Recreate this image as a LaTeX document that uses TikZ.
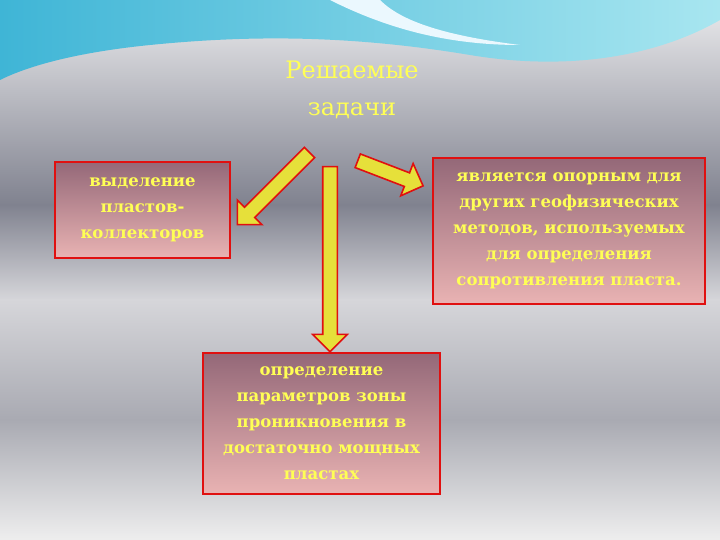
\documentclass[tikz,border=0pt]{standalone}
\usepackage{fontspec}
\setmainfont{DejaVu Serif}
\usetikzlibrary{shapes.arrows,shadows}
\definecolor{bg1}{HTML}{ECECEE}
\definecolor{bg2}{HTML}{80828F}
\definecolor{bg3}{HTML}{D6D6DA}
\definecolor{bg4}{HTML}{A9AAB2}
\definecolor{bg5}{HTML}{EEEEEE}
\definecolor{wv1}{HTML}{3FB5D6}
\definecolor{wv2}{HTML}{A8E6F0}
\definecolor{boxtop}{HTML}{946878}
\definecolor{boxbot}{HTML}{E9B3B3}
\definecolor{txtyel}{HTML}{FFFF55}
\definecolor{redb}{HTML}{E01010}
\definecolor{arrowy}{HTML}{E6E03A}
\tikzset{
  box/.style={draw=redb,line width=1.6pt,top color=boxtop,bottom color=boxbot,
    font=\bfseries\fontsize{16.5}{26}\selectfont,text=txtyel,align=center,inner sep=0pt},
  blk/.style={single arrow,draw=redb,line width=1.6pt,fill=arrowy,inner sep=6.5pt,
    single arrow head extend=10pt,minimum width=33pt}
}
\begin{document}
\begin{tikzpicture}[x=1pt,y=-1pt]
\useasboundingbox (0,0) rectangle (720,540);
\shade[top color=bg1,bottom color=bg2] (0,-0.5) rectangle (720,205);
\shade[top color=bg2,bottom color=bg3] (0,204.5) rectangle (720,300);
\shade[top color=bg3,bottom color=bg4] (0,299.5) rectangle (720,420);
\shade[top color=bg4,bottom color=bg5] (0,419.5) rectangle (720,540);
% blue wave
\shade[left color=wv1, right color=wv2]
  (0,0) -- (720,0) -- (720,20) .. controls (650,60) and (560,70) .. (470,55)
  .. controls (350,35) and (250,35) .. (150,45) .. controls (80,52) and (30,65) .. (0,80) -- cycle;
\fill[white!92!cyan] (330,0) .. controls (380,25) and (440,45) .. (520,45)
  .. controls (440,35) and (400,20) .. (380,0) -- cycle;
\node[font=\fontsize{24}{37}\selectfont,text=txtyel,align=center] (title) at (352,90) {Решаемые\\задачи};
\node[box,minimum width=175pt,minimum height=96pt] (b1) at (142.5,210) {выделение\\пластов-\\коллекторов};
\node[box,minimum width=272pt,minimum height=146pt] (b2) at (569,231) {является опорным для\\других геофизических\\методов, используемых\\для определения\\сопротивления пласта.};
\node[box,minimum width=237pt,minimum height=141pt] (b3) at (321.5,423.5) {определение\\параметров зоны\\проникновения в\\достаточно мощных\\пластах};
\node[blk,minimum height=102pt,rotate=225] (a1) at (276,186) {};
\node[blk,minimum height=185pt,rotate=270] (a2) at (330,255.5) {};
\node[blk,minimum height=70pt,rotate=-21] (a3) at (387,172) {};
\end{tikzpicture}
\end{document}
